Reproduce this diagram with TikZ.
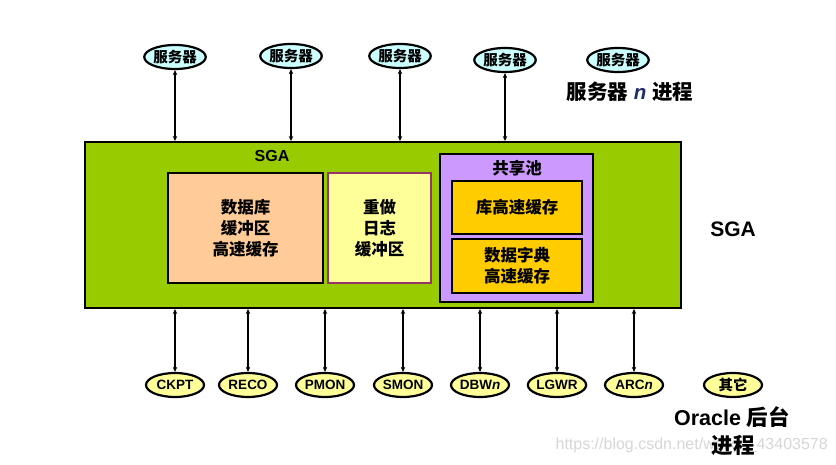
\documentclass[tikz,border=0pt]{standalone}
\usepackage{fontspec}
\setmainfont{Liberation Sans}
\newfontfamily\cjk{Noto Sans CJK SC}
\usetikzlibrary{shapes.geometric,arrows.meta}
\definecolor{sgagreen}{HTML}{99CC00}
\definecolor{peach}{HTML}{FFCC99}
\definecolor{lightyel}{HTML}{FFFF99}
\definecolor{maroon}{HTML}{993366}
\definecolor{lav}{HTML}{CC99FF}
\definecolor{gold}{HTML}{FFCC00}
\definecolor{cyanl}{HTML}{CCFFFF}
\definecolor{navyn}{HTML}{1F2A6B}
\tikzset{
  srv/.style={ellipse,draw=black,line width=2.2pt,fill=cyanl,minimum width=59pt,minimum height=24pt,inner sep=0pt,font=\cjk\bfseries\fontsize{14.5}{15}\selectfont},
  bgp/.style={ellipse,draw=black,line width=2.2pt,fill=lightyel,minimum width=58pt,minimum height=24pt,inner sep=0pt,font=\bfseries\fontsize{13.5}{14}\selectfont},
  box/.style={draw=black,line width=2pt,inner sep=0pt,align=center,font=\cjk\bfseries\fontsize{16.5}{21}\selectfont},
  conn/.style={line width=1.4pt,{Stealth[length=5pt,width=4.5pt]}-{Stealth[length=5pt,width=4.5pt]}},
  lbl/.style={inner sep=0pt,font=\bfseries}
}
\begin{document}
\begin{tikzpicture}[x=1pt,y=-1pt]
\useasboundingbox (0,0) rectangle (836,465);
% SGA
\node[draw=black,line width=2pt,fill=sgagreen,minimum width=596pt,minimum height=166pt,inner sep=0pt] (sga) at (383,225) {};
\node[lbl,font=\bfseries\fontsize{16}{18}\selectfont] (sgat) at (272,156) {SGA};
\node[box,fill=peach,minimum width=155pt,minimum height=110pt] (dbc) at (245.5,228) {数据库\\缓冲区\\高速缓存};
\node[box,draw=maroon,fill=lightyel,minimum width=103pt,minimum height=110pt] (redo) at (379.5,228) {重做\\日志\\缓冲区};
\node[box,fill=lav,minimum width=153pt,minimum height=148pt] (sp) at (516.5,228) {};
\node[lbl,font=\cjk\bfseries\fontsize{16.5}{18}\selectfont] (spt) at (517,168) {共享池};
\node[box,fill=gold,minimum width=130pt,minimum height=53pt] (lib) at (517,207.5) {库高速缓存};
\node[box,fill=gold,minimum width=130pt,minimum height=54pt] (dict) at (517,266) {数据字典\\高速缓存};
% servers
\node[srv] (s1) at (175,57) {服务器};
\node[srv] (s2) at (291,56) {服务器};
\node[srv] (s3) at (400,56) {服务器};
\node[srv] (s4) at (505,60) {服务器};
\node[srv] (s5) at (618,60) {服务器};
\foreach \s in {s1,s2,s3,s4}{\draw[conn] (\s.south) -- (\s.south |- sga.north);}
\node[lbl,font=\bfseries\fontsize{20.5}{22}\selectfont] (srvn) at (630,92) {{\cjk 服务器} \textcolor{navyn}{\itshape n} {\cjk 进程}};
\node[lbl,font=\bfseries\fontsize{21}{23}\selectfont] (sgar) at (733,229) {SGA};
% background processes
\node[bgp] (b1) at (175,385) {CKPT};
\node[bgp] (b2) at (248,385) {RECO};
\node[bgp] (b3) at (325,385) {PMON};
\node[bgp] (b4) at (403,385) {SMON};
\node[bgp] (b5) at (480,385) {DBW\textit{n}};
\node[bgp] (b6) at (557,385) {LGWR};
\node[bgp] (b7) at (634,385) {ARC\textit{n}};
\node[bgp,font=\cjk\bfseries\fontsize{14.5}{15}\selectfont] (b8) at (733,385) {其它};
\foreach \b in {b1,b2,b3,b4,b5,b6,b7}{\draw[conn] (\b.north |- sga.south) -- (\b.north);}
\node[inner sep=0pt,anchor=east,text=black!16,font=\fontsize{16}{18}\selectfont] (wm) at (828,445) {https://blog.csdn.net/weixin\_43403578};
\node[lbl,font=\bfseries\fontsize{21.5}{23}\selectfont] (ora) at (732,417) {Oracle {\cjk 后台}};
\node[lbl,font=\cjk\bfseries\fontsize{21.5}{23}\selectfont] (jc) at (733,445) {进程};
\end{tikzpicture}
\end{document}
